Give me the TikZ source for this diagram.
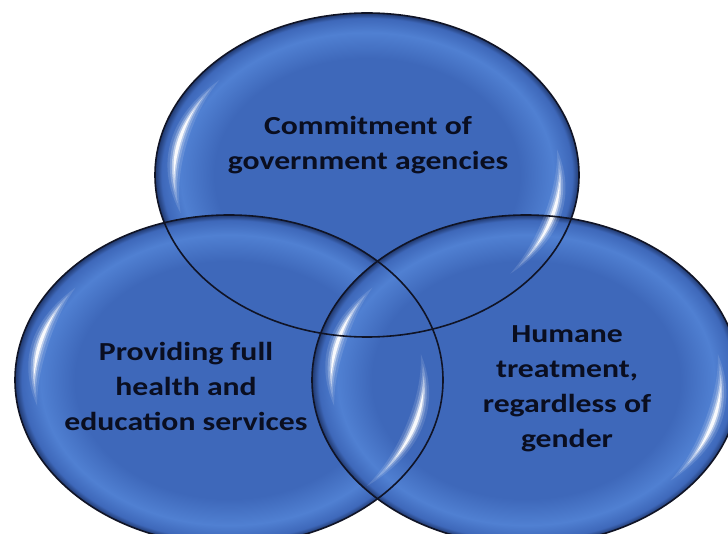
\documentclass[tikz,border=0pt]{standalone}
\usepackage{fontspec}
\newfontfamily\vennfont{Carlito}[FakeStretch=1.22]
\usepackage{tikz}

\definecolor{vennblue}{RGB}{62,104,186}
\definecolor{vennrim}{RGB}{80,128,210}
\definecolor{vennedge}{RGB}{32,56,110}
\definecolor{vennline}{RGB}{16,20,38}
\definecolor{venntext}{RGB}{10,14,32}

% glassy disc: flat centre, lighter bevel, dark rim
\pgfdeclareradialshading{vennglass}{\pgfpoint{0bp}{0bp}}{%
  color(0bp)=(vennblue); color(18bp)=(vennblue); color(22bp)=(vennrim);
  color(24.2bp)=(vennblue); color(25bp)=(vennedge); color(50bp)=(vennedge)}

% white crescent on an ellipse: cx, cy, rx, ry, from, to
\newcommand{\vennglint}[6]{%
  \foreach \h/\o/\f in {0.038/0.12/1, 0.026/0.22/0.86, 0.016/0.45/0.7, 0.008/0.9/0.52}{
    \pgfmathsetmacro\glintA{(#5+#6)/2-\f*(#6-#5)/2}
    \pgfmathsetmacro\glintB{(#5+#6)/2+\f*(#6-#5)/2}
    \fill[white, opacity=\o]
      plot[domain=\glintA:\glintB, samples=40]
      ({#1+(0.91+\h*sin(180*(\x-\glintA)/(\glintB-\glintA)))*#3*cos(\x)},
       {#2-(0.91+\h*sin(180*(\x-\glintA)/(\glintB-\glintA)))*#4*sin(\x)})
      -- plot[domain=\glintB:\glintA, samples=40]
      ({#1+(0.91-\h*sin(180*(\x-\glintA)/(\glintB-\glintA)))*#3*cos(\x)},
       {#2-(0.91-\h*sin(180*(\x-\glintA)/(\glintB-\glintA)))*#4*sin(\x)})
      -- cycle;
  }}

\begin{document}
\begin{tikzpicture}[x=1pt, y=-1pt,
    disc/.style={shading=vennglass},
    rim/.style={draw=vennline, line width=1.6pt},
    venntext/.style={align=center, text=venntext, inner sep=0pt,
      font=\vennfont\bfseries\fontsize{26}{35}\selectfont}]
  \useasboundingbox (0,0) rectangle (728,534);
  \clip (0,0) rectangle (728,534);

  \coordinate (govt) at (367,175);
  \coordinate (care) at (229,380);
  \coordinate (equal) at (526,380);

  % fills
  \path[disc] (govt) ellipse [x radius=212, y radius=162];
  \path[disc] (care) ellipse [x radius=214, y radius=165];
  \path[disc] (equal) ellipse [x radius=214, y radius=165];

  % highlights
  \vennglint{367}{175}{212}{162}{140}{195}
  \vennglint{367}{175}{212}{162}{-42}{10}
  \vennglint{229}{380}{214}{165}{142}{190}
  \vennglint{229}{380}{214}{165}{-45}{10}
  \vennglint{526}{380}{214}{165}{142}{190}
  \vennglint{526}{380}{214}{165}{-42}{10}

  % outlines
  \draw[rim] (govt) ellipse [x radius=212, y radius=162];
  \draw[rim] (care) ellipse [x radius=214, y radius=165];
  \draw[rim] (equal) ellipse [x radius=214, y radius=165];

  \node[venntext] (govtlabel) at (368,145) {Commitment of\\government agencies};
  \node[venntext] (carelabel) at (186,386) {Providing full\\health and\\education services};
  \node[venntext] (equallabel) at (567,389) {Humane\\treatment,\\regardless of\\gender};
\end{tikzpicture}
\end{document}
